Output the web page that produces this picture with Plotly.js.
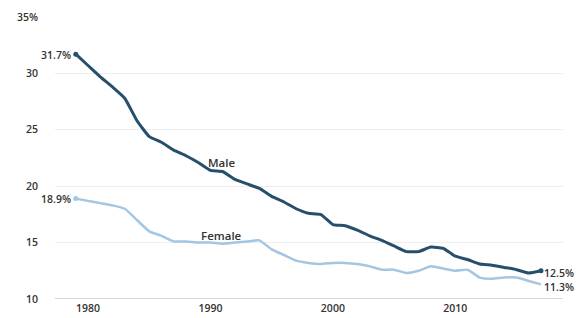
<!DOCTYPE html>
<html>
<head>
<meta charset="utf-8">
<script src="https://cdn.plot.ly/plotly-3.0.1.min.js"></script>
<style>html,body{margin:0;padding:0;background:#fff}#chart{width:581px;height:318px}</style>
</head>
<body>
<div id="chart"></div>
<script>
var years = [];
for (var y = 1979; y <= 2017; y++) years.push(y);
var male = [31.7,30.7,29.7,28.8,27.8,25.8,24.4,23.9,23.2,22.7,22.1,21.4,21.3,20.6,20.2,19.8,19.1,18.6,18.0,17.6,17.5,16.6,16.5,16.1,15.6,15.2,14.7,14.2,14.2,14.6,14.5,13.8,13.5,13.1,13.0,12.8,12.6,12.3,12.5];
var female = [18.9,18.7,18.5,18.3,18.0,17.0,16.0,15.6,15.1,15.1,15.0,15.0,14.9,15.0,15.1,15.2,14.4,13.9,13.4,13.2,13.1,13.2,13.2,13.1,12.9,12.6,12.6,12.3,12.5,12.9,12.7,12.5,12.6,11.9,11.8,11.9,11.9,11.6,11.3];
var yTickVals = [10,15,20,25,30,35];
var yTickText = ["10","15","20","25","30","35%"];
var xTickVals = [1980,1990,2000,2010];

var maleColor = "#264f6c", femaleColor = "#a3c6e3";
var n = years.length;
function endMarkers(color){ return {size: 5, color: color}; }

var traces = [
  {x: years, y: female, type: "scatter", mode: "lines", line: {color: femaleColor, width: 2.5, shape: "spline", smoothing: 0.4}, hoverinfo: "skip"},
  {x: [years[0]], y: [female[0]], type: "scatter", mode: "markers", marker: endMarkers(femaleColor), hoverinfo: "skip"},
  {x: years, y: male, type: "scatter", mode: "lines", line: {color: maleColor, width: 3, shape: "spline", smoothing: 0.4}, hoverinfo: "skip"},
  {x: [years[0], years[n-1]], y: [male[0], male[n-1]], type: "scatter", mode: "markers", marker: endMarkers(maleColor), hoverinfo: "skip"}
];

var f = {family: "'Open Sans', sans-serif", size: 10.5, color: "#333", weight: 600};
var fl = {family: "'Open Sans', sans-serif", size: 11.5, color: "#333", weight: 600};
var annots = [
  {x: years[0], y: male[0], text: male[0].toFixed(1) + "%", xanchor: "right", xshift: -3, yshift: -1, showarrow: false, font: f},
  {x: years[0], y: female[0], text: female[0].toFixed(1) + "%", xanchor: "right", xshift: -3, showarrow: false, font: f},
  {x: years[n-1], y: male[n-1], text: male[n-1].toFixed(1) + "%", xanchor: "left", xshift: 1, yshift: -2, showarrow: false, font: f},
  {x: years[n-1], y: female[n-1], text: female[n-1].toFixed(1) + "%", xanchor: "left", xshift: 1, yshift: -3, showarrow: false, font: f},
  {x: 1990.9, y: 22.1, text: "Male", showarrow: false, font: fl},
  {x: 1990.9, y: 15.6, text: "Female", showarrow: false, font: fl}
];

var layout = {
  width: 581, height: 318,
  margin: {l: 55, r: 18, t: 17, b: 19},
  paper_bgcolor: "#fff", plot_bgcolor: "#fff",
  showlegend: false,
  font: f,
  xaxis: {range: [1977.3, 2018.8], tickvals: xTickVals, showgrid: false, zeroline: false,
          ticks: "", ticklabelstandoff: 1, showline: false, tickfont: f},
  yaxis: {range: [10, 35], tickvals: yTickVals, ticktext: yTickText, showgrid: true, gridcolor: "#eeeeee", gridwidth: 1,
          zeroline: false, ticks: "", ticklabelstandoff: 16, tickfont: f, showline: false},
  shapes: [{type: "line", xref: "paper", yref: "y", x0: 0, x1: 1, y0: 10, y1: 10, line: {color: "#c8c8c8", width: 1.5}}],
  annotations: annots
};
Plotly.newPlot("chart", traces, layout, {staticPlot: true, displayModeBar: false});
</script>
</body>
</html>
